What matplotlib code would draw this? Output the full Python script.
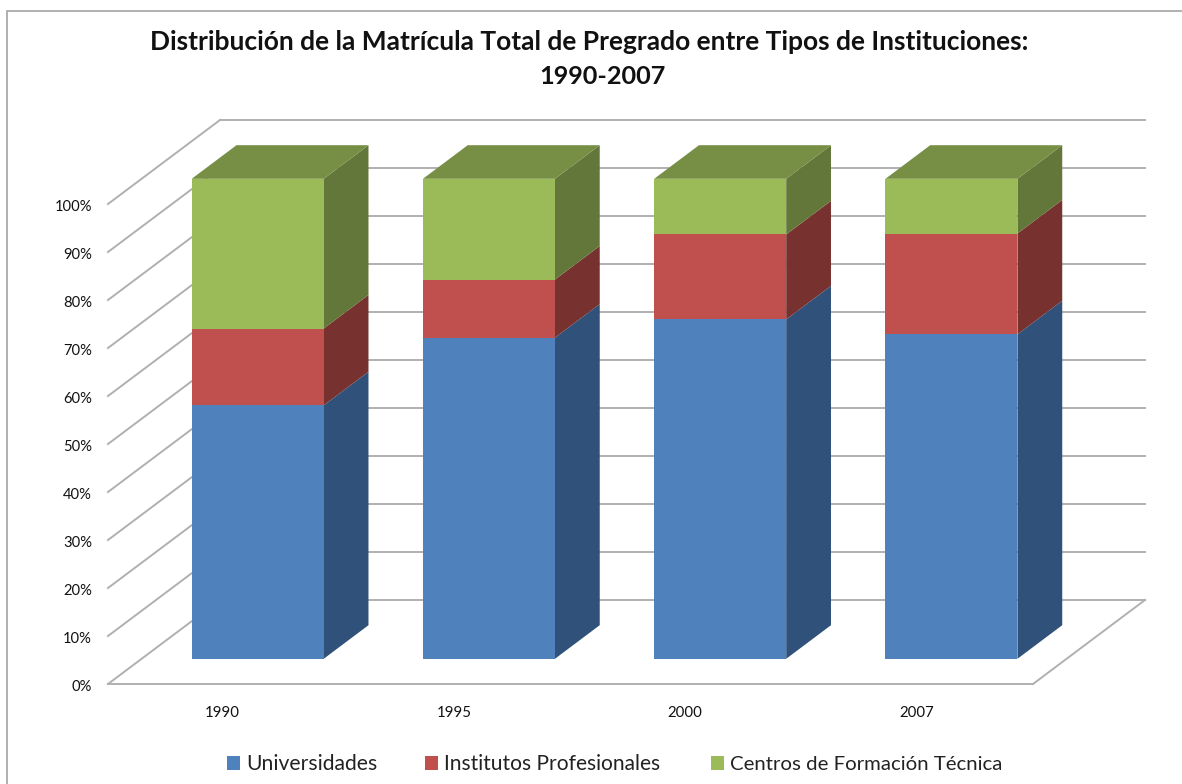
import matplotlib
matplotlib.use("Agg")
import matplotlib.pyplot as plt
from matplotlib.patches import Polygon, Rectangle
from matplotlib.lines import Line2D

categories = ["1990", "1995", "2000", "2007"]
universidades = [52.8, 66.9, 70.7, 67.6]
institutos = [16.0, 12.1, 17.7, 21.0]
centros = [31.2, 21.0, 11.6, 11.4]
series_names = ["Universidades", "Institutos Profesionales", "Centros de Formación Técnica"]
yticks = list(range(0, 101, 10))

front = ["#4F81BD", "#C0504D", "#9BBB59"]
side = ["#30527A", "#773230", "#64773A"]
top = ["#3F6797", "#994040", "#778F45"]
GRID = "#B0B0B0"

W, H = 1182, 784
plt.rcParams["font.family"] = ["Lato", "DejaVu Sans"]
fig = plt.figure(figsize=(W / 100, H / 100), dpi=100, facecolor="white")
ax = fig.add_axes([108 / W, 1 - 684 / H, 925 / W, 480 / H])
ax.set_xlim(-0.5, 3.5)
ax.set_ylim(0, 100)
ax.axis("off")

# Oblique projection: depth d in [0, 1] shifts a point right and up
DX = 112 / 925 * 4
DY = 84 / 480 * 100
def proj(x, y, d):
    return (x + DX * d, y + DY * d)

# Walls and floor
def line(p, q, z=1):
    ax.add_line(Line2D([p[0], q[0]], [p[1], q[1]], color=GRID, lw=1.4, zorder=z, clip_on=False))

for t in yticks:
    line(proj(-0.5, t, 0), proj(-0.5, t, 1))
    line(proj(-0.5, t, 1), proj(3.5, t, 1))
line(proj(-0.5, 0, 0), proj(3.5, 0, 0))
line(proj(3.5, 0, 0), proj(3.5, 0, 1))

# Bars
BAR_W = 132 / 925 * 4
D0, D1 = 0.30, 0.70
stacks = [universidades, institutos, centros]
for i in range(len(categories)):
    base = 0.0
    xl, xr = i - BAR_W / 2 + 0.002, i + BAR_W / 2 + 0.002
    for s, vals in enumerate(stacks):
        v = vals[i]
        t = base + v
        ax.add_patch(Polygon([proj(xl, base, D0), proj(xr, base, D0), proj(xr, t, D0), proj(xl, t, D0)],
                             fc=front[s], ec="none", zorder=4, clip_on=False))
        ax.add_patch(Polygon([proj(xr, base, D0), proj(xr, base, D1), proj(xr, t, D1), proj(xr, t, D0)],
                             fc=side[s], ec="none", zorder=3, clip_on=False))
        if s == len(stacks) - 1:
            ax.add_patch(Polygon([proj(xl, t, D0), proj(xr, t, D0), proj(xr, t, D1), proj(xl, t, D1)],
                                 fc=top[s], ec="none", zorder=3, clip_on=False))
        base = t

# Tick labels
for t in yticks:
    ax.annotate(f"{t}%", xy=(-0.5, t), xytext=(-16, -3), textcoords="offset pixels",
                ha="right", va="center", fontsize=10.6, color="#111111", annotation_clip=False)
for i, c in enumerate(categories):
    ax.annotate(c, xy=(i, 0), xytext=(-1, -29), textcoords="offset pixels",
                ha="center", va="center", fontsize=10.8, color="#111111", annotation_clip=False)

# Title
fig.text(589 / W, 1 - 42 / H, "Distribución de la Matrícula Total de Pregrado entre Tipos de Instituciones:",
         ha="center", va="center", fontsize=19.0, fontweight="bold", color="#111111")
fig.text(602.5 / W, 1 - 77 / H, "1990-2007",
         ha="center", va="center", fontsize=18.2, fontweight="bold", color="#111111")

# Legend
leg_x = [227, 425, 711]
for x, name, col, fs in zip(leg_x, series_names, front, [15.2, 15.1, 14.7]):
    fig.add_artist(Rectangle((x / W, 1 - 770 / H), 13 / W, 14 / H, transform=fig.transFigure,
                             fc=col, ec="none"))
    fig.text((x + 19) / W, 1 - 764 / H, name, ha="left", va="center", fontsize=fs, color="#222222")

# Chart-area border
fig.add_artist(Line2D([6.5 / W, 6.5 / W], [0, 1 - 10.5 / H], transform=fig.transFigure, color=GRID, lw=1.4))
fig.add_artist(Line2D([6.5 / W, 1], [1 - 10.5 / H, 1 - 10.5 / H], transform=fig.transFigure, color=GRID, lw=1.4))

fig.savefig("out.png", dpi=100, facecolor="white")
